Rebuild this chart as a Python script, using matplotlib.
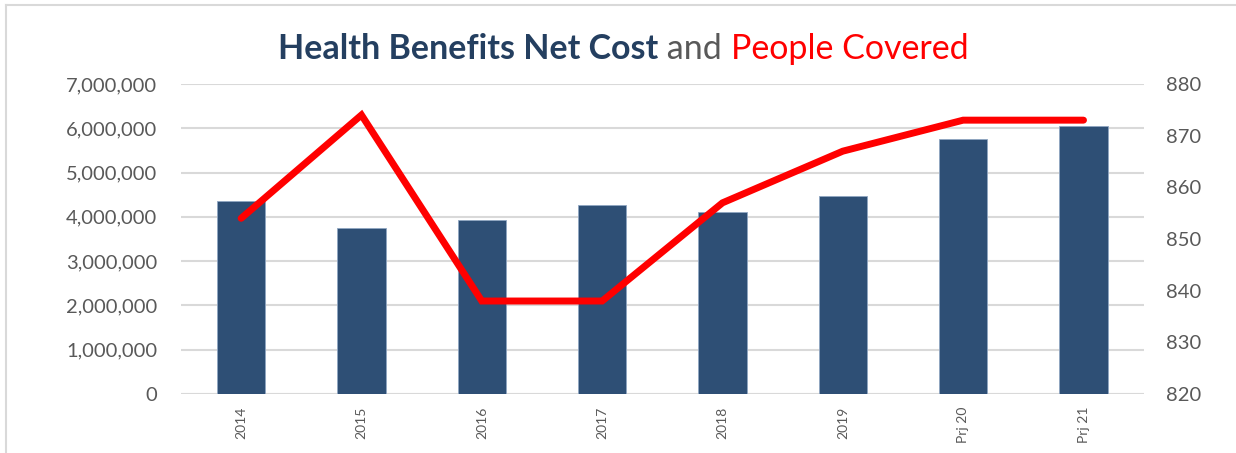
import matplotlib.pyplot as plt
from matplotlib.lines import Line2D
from matplotlib.ticker import FuncFormatter

# net cost per year (left axis) and head count covered (right axis)
years = ["2014", "2015", "2016", "2017", "2018", "2019", "Prj 20", "Prj 21"]
net_cost = [4360000, 3750000, 3920000, 4260000, 4120000, 4460000, 5750000, 6050000]
people = [854, 874, 838, 838, 857, 867, 873, 873]

NAVY = "#2e4f75"
TITLE_NAVY = "#243f60"
GRID = "#d9d9d9"
TEXT = "#595959"

plt.rcParams["font.family"] = ["Lato", "DejaVu Sans"]

fig = plt.figure(figsize=(12.36, 4.53), dpi=100)
ax = fig.add_axes([0.1464, 0.1302, 0.7789, 0.6844])
x = range(len(years))

ax.bar(x, net_cost, width=0.4, color=NAVY, edgecolor="#8fa6c2",
       linewidth=0.6, zorder=2)
ax.set_ylim(0, 7_000_000)
ax.set_xlim(-0.5, len(years) - 0.5)
ax.set_yticks(range(0, 7_000_001, 1_000_000))
ax.yaxis.set_major_formatter(FuncFormatter(lambda v, _: f"{v:,.0f}"))
ax.grid(True, axis="y", color=GRID, linewidth=1.5, zorder=0)
ax.set_axisbelow(True)
for s in ax.spines.values():
    s.set_visible(False)
ax.tick_params(axis="y", length=0, pad=17, labelsize=14.5, labelcolor=TEXT)
ax.set_xticks(list(x))
ax.set_xticklabels(years, rotation=90, fontsize=10, color=TEXT)
ax.tick_params(axis="x", length=0, pad=9)
ax.axhline(0, color=GRID, linewidth=2.2, zorder=1)

ax2 = ax.twinx()
ax2.plot(x, people, color="#ff0000", linewidth=5, solid_capstyle="round",
         solid_joinstyle="miter", zorder=3)
ax2.set_ylim(820, 880)
ax2.set_yticks(range(820, 881, 10))
for s in ax2.spines.values():
    s.set_visible(False)
ax2.tick_params(axis="y", length=0, pad=16, labelsize=14.5, labelcolor=TEXT)

# title in three colours, laid out piece by piece
parts = [("Health Benefits Net Cost", TITLE_NAVY, "bold"),
         (" and ", TEXT, "normal"),
         ("People Covered", "#ff0000", "normal")]
fig.canvas.draw()
r = fig.canvas.get_renderer()
texts = []
for s, c, w in parts:
    t = fig.text(0, 0.892, s, color=c, fontsize=24.5, fontweight=w,
                 ha="left", va="center")
    texts.append(t)
widths = [t.get_window_extent(r).width / fig.bbox.width for t in texts]
xpos = 0.504 - sum(widths) / 2
for t, w in zip(texts, widths):
    t.set_x(xpos)
    xpos += w

# light frame along the top and left edge
fig.add_artist(Line2D([0.0052, 1.0], [0.988, 0.988], transform=fig.transFigure,
                      color=GRID, linewidth=1.5))
fig.add_artist(Line2D([0.0052, 0.0052], [0.0, 0.988], transform=fig.transFigure,
                      color=GRID, linewidth=1.5))

fig.savefig("out.png", dpi=100)
